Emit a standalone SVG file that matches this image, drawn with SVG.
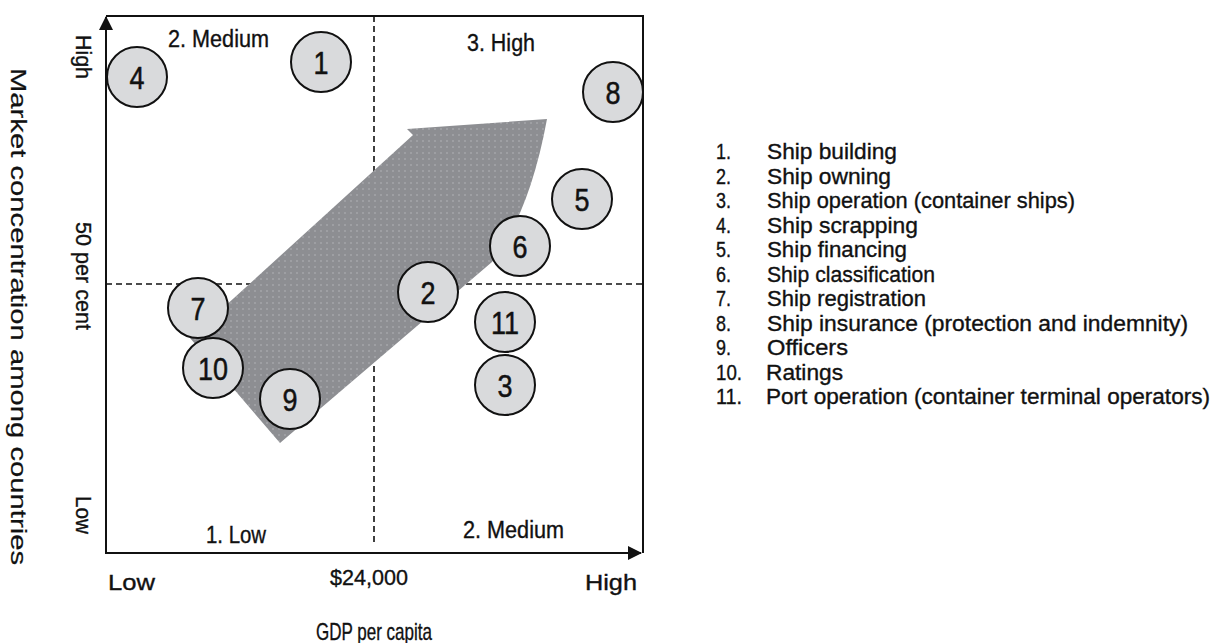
<svg xmlns="http://www.w3.org/2000/svg" width="1212" height="643" viewBox="0 0 1212 643">
<style>
text{font-family:"Liberation Sans",Arial,sans-serif;fill:#111;stroke:#111;stroke-width:0.35px}
.q{font-size:23px}
.lg{font-size:22px}
.ax{font-size:22px}
.gdp{font-size:24px}
.yl{font-size:22px;stroke-width:0.2px}
.num{font-size:32px;text-anchor:middle;stroke-width:0.5px}
.node circle{fill:#d9dadc;stroke:#111;stroke-width:2}
.dash{stroke:#111;stroke-width:1.6;stroke-dasharray:6 4;fill:none}
.axis{stroke:#111;stroke-width:2;fill:none}
</style>
<defs>
<pattern id="dots" width="6" height="6" patternUnits="userSpaceOnUse">
<rect width="6" height="6" fill="#8d8e92"/>
<circle cx="3" cy="3" r="0.8" fill="#b4b5b8"/>
</pattern>
<marker id="ah" markerWidth="14" markerHeight="14" refX="13" refY="7" orient="auto" markerUnits="userSpaceOnUse">
<path d="M0,0 L14,7 L0,14 Z" fill="#111"/>
</marker>
</defs>

<g id="frame">
<line class="dash" x1="374" y1="16" x2="374" y2="546"/>
<line class="dash" x1="106" y1="284" x2="643" y2="284"/>
<path id="bigArrow" d="M280,443 L190,338 L413,135 L407,129 L547,119 Q530,212 492,262 Z" fill="url(#dots)"/>
<polyline class="axis" points="106,16 643,16 643,553"/>
</g>

<g id="connectors">
<line class="axis" x1="106" y1="553" x2="106" y2="17" marker-end="url(#ah)"/>
<line class="axis" x1="105" y1="553" x2="641" y2="553" marker-end="url(#ah)"/>
</g>

<g id="labels">
<text class="q" x="168" y="47" textLength="101" lengthAdjust="spacingAndGlyphs">2. Medium</text>
<text class="q" x="467" y="51" textLength="68" lengthAdjust="spacingAndGlyphs">3. High</text>
<text class="q" x="206" y="543" textLength="60" lengthAdjust="spacingAndGlyphs">1. Low</text>
<text class="q" x="463" y="538" textLength="101" lengthAdjust="spacingAndGlyphs">2. Medium</text>
<text class="ax" x="108" y="590" textLength="47" lengthAdjust="spacingAndGlyphs">Low</text>
<text class="ax" x="330" y="585" textLength="78" lengthAdjust="spacingAndGlyphs">$24,000</text>
<text class="ax" x="585" y="590" textLength="52" lengthAdjust="spacingAndGlyphs">High</text>
<text class="gdp" x="316" y="640" textLength="116" lengthAdjust="spacingAndGlyphs">GDP per capita</text>
<text class="ax" transform="translate(76,35) rotate(90)" textLength="44" lengthAdjust="spacingAndGlyphs">High</text>
<text class="ax" transform="translate(76,222) rotate(90)" textLength="108" lengthAdjust="spacingAndGlyphs">50 per cent</text>
<text class="ax" transform="translate(76,496) rotate(90)" textLength="38" lengthAdjust="spacingAndGlyphs">Low</text>
<text class="yl" transform="translate(11,68) rotate(90)" textLength="497" lengthAdjust="spacingAndGlyphs">Market concentration among countries</text>
</g>

<g id="n4" class="node"><circle cx="137" cy="77" r="30"/><text class="num" x="137" y="89" textLength="15" lengthAdjust="spacingAndGlyphs">4</text></g>
<g id="n1" class="node"><circle cx="321" cy="62" r="30"/><text class="num" x="321" y="74" textLength="15" lengthAdjust="spacingAndGlyphs">1</text></g>
<g id="n8" class="node"><circle cx="613" cy="92" r="30"/><text class="num" x="613" y="104" textLength="15" lengthAdjust="spacingAndGlyphs">8</text></g>
<g id="n5" class="node"><circle cx="582" cy="199" r="30"/><text class="num" x="582" y="211" textLength="15" lengthAdjust="spacingAndGlyphs">5</text></g>
<g id="n6" class="node"><circle cx="520" cy="246" r="30"/><text class="num" x="520" y="258" textLength="15" lengthAdjust="spacingAndGlyphs">6</text></g>
<g id="n2" class="node"><circle cx="428" cy="292" r="30"/><text class="num" x="428" y="304" textLength="15" lengthAdjust="spacingAndGlyphs">2</text></g>
<g id="n7" class="node"><circle cx="198" cy="308" r="30"/><text class="num" x="198" y="320" textLength="15" lengthAdjust="spacingAndGlyphs">7</text></g>
<g id="n11" class="node"><circle cx="505" cy="322" r="30"/><text class="num" x="505" y="334" textLength="28" lengthAdjust="spacingAndGlyphs">11</text></g>
<g id="n10" class="node"><circle cx="213" cy="368" r="30"/><text class="num" x="213" y="380" textLength="30" lengthAdjust="spacingAndGlyphs">10</text></g>
<g id="n3" class="node"><circle cx="505" cy="385" r="30"/><text class="num" x="505" y="397" textLength="15" lengthAdjust="spacingAndGlyphs">3</text></g>
<g id="n9" class="node"><circle cx="290" cy="399" r="30"/><text class="num" x="290" y="411" textLength="15" lengthAdjust="spacingAndGlyphs">9</text></g>

<g id="legend">
<text class="lg" x="716" y="159" textLength="15" lengthAdjust="spacingAndGlyphs">1.</text><text class="lg" x="767" y="159" textLength="130" lengthAdjust="spacingAndGlyphs">Ship building</text>
<text class="lg" x="716" y="183.5" textLength="15" lengthAdjust="spacingAndGlyphs">2.</text><text class="lg" x="767" y="183.5" textLength="124" lengthAdjust="spacingAndGlyphs">Ship owning</text>
<text class="lg" x="716" y="208" textLength="15" lengthAdjust="spacingAndGlyphs">3.</text><text class="lg" x="767" y="208" textLength="308" lengthAdjust="spacingAndGlyphs">Ship operation (container ships)</text>
<text class="lg" x="716" y="232.5" textLength="15" lengthAdjust="spacingAndGlyphs">4.</text><text class="lg" x="767" y="232.5" textLength="151" lengthAdjust="spacingAndGlyphs">Ship scrapping</text>
<text class="lg" x="716" y="257" textLength="15" lengthAdjust="spacingAndGlyphs">5.</text><text class="lg" x="767" y="257" textLength="140" lengthAdjust="spacingAndGlyphs">Ship financing</text>
<text class="lg" x="716" y="281.5" textLength="15" lengthAdjust="spacingAndGlyphs">6.</text><text class="lg" x="767" y="281.5" textLength="168" lengthAdjust="spacingAndGlyphs">Ship classification</text>
<text class="lg" x="716" y="306" textLength="15" lengthAdjust="spacingAndGlyphs">7.</text><text class="lg" x="767" y="306" textLength="159" lengthAdjust="spacingAndGlyphs">Ship registration</text>
<text class="lg" x="716" y="330.5" textLength="15" lengthAdjust="spacingAndGlyphs">8.</text><text class="lg" x="767" y="330.5" textLength="421" lengthAdjust="spacingAndGlyphs">Ship insurance (protection and indemnity)</text>
<text class="lg" x="716" y="355" textLength="15" lengthAdjust="spacingAndGlyphs">9.</text><text class="lg" x="767" y="355" textLength="81" lengthAdjust="spacingAndGlyphs">Officers</text>
<text class="lg" x="716" y="379.5" textLength="26" lengthAdjust="spacingAndGlyphs">10.</text><text class="lg" x="766" y="379.5" textLength="77" lengthAdjust="spacingAndGlyphs">Ratings</text>
<text class="lg" x="716" y="404" textLength="26" lengthAdjust="spacingAndGlyphs">11.</text><text class="lg" x="766" y="404" textLength="444" lengthAdjust="spacingAndGlyphs">Port operation (container terminal operators)</text>
</g>
</svg>
